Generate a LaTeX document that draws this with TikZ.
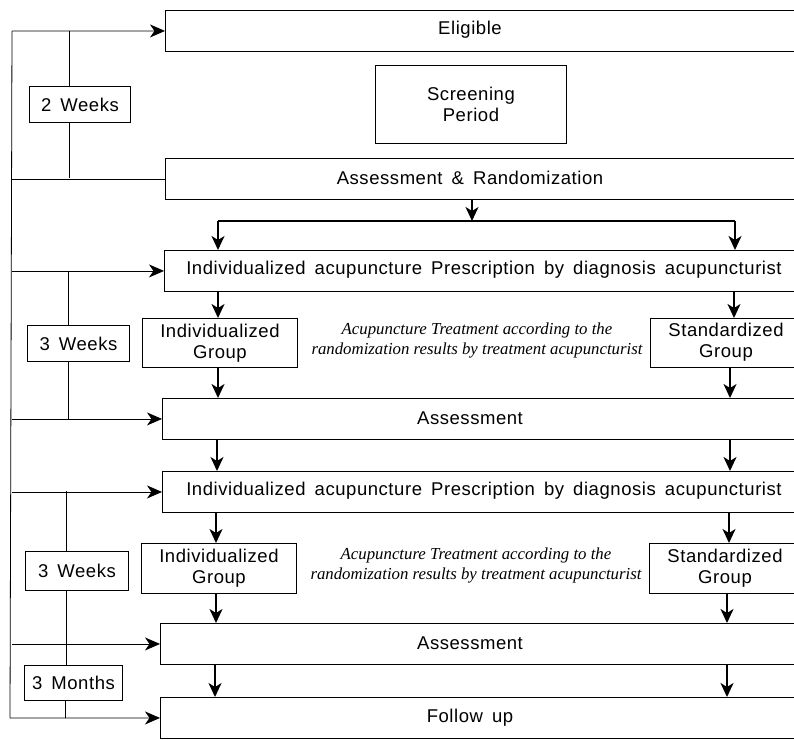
\documentclass[tikz,border=0pt]{standalone}
\usepackage{fontspec}
\setmainfont{Liberation Serif}
\setsansfont{Liberation Sans}[LetterSpace=3,WordSpace=1.6]
\usetikzlibrary{arrows.meta}
\begin{document}
\begin{tikzpicture}[x=1pt,y=-1pt,
  box/.style={draw, line width=0.9pt, inner sep=0pt, anchor=north west},
  txt/.style={font=\sffamily\fontsize{18.5}{21}\selectfont, align=center, inner sep=0pt},
  itx/.style={font=\itshape\fontsize{16.8}{20}\selectfont, align=center, inner sep=0pt},
  thinarr/.style={line width=0.8pt, -{Stealth[length=15pt,width=13pt,inset=4.5pt]}},
  thickarr/.style={line width=1.8pt, -{Stealth[length=14pt,width=13pt,inset=4pt]}},
  conn/.style={line width=0.8pt},
  thickconn/.style={line width=1.8pt}]
\useasboundingbox (0,0) rectangle (794,739);
\clip (0,0) rectangle (794,739);
\fill[white] (0,0) rectangle (794,739);

% wide boxes
\node[box, minimum width=700, minimum height=41] (elig) at (165,10) {};
\node[box, minimum width=700, minimum height=41] (ar) at (165,158) {};
\node[box, minimum width=700, minimum height=41] (pre1) at (164,250) {};
\node[box, minimum width=700, minimum height=41] (as1) at (162,398) {};
\node[box, minimum width=700, minimum height=41] (pre2) at (162,471) {};
\node[box, minimum width=700, minimum height=41] (as2) at (160,623) {};
\node[box, minimum width=700, minimum height=41] (fol) at (160,697) {};

\node[txt] at (470,30) {Eligible};
\node[txt] at (470,178) {Assessment \& Randomization};
\node[txt] at (484,270) {Individualized acupuncture Prescription by diagnosis acupuncturist};
\node[txt] at (470,418) {Assessment};
\node[txt] at (484,491) {Individualized acupuncture Prescription by diagnosis acupuncturist};
\node[txt] at (470,643) {Assessment};
\node[txt] at (470,718) {Follow up};

% screening
\node[box, minimum width=191, minimum height=78, txt] (scr) at (375,65) {Screening\\Period};

% group boxes
\node[box, minimum width=155, minimum height=49, txt] (ind1) at (142,318) {Individualized\\Group};
\node[box, minimum width=160, minimum height=49] (std1) at (650,318) {};
\node[txt] at (726,342) {Standardized\\Group};
\node[box, minimum width=155, minimum height=50, txt] (ind2) at (141,543) {Individualized\\Group};
\node[box, minimum width=160, minimum height=50] (std2) at (649,543) {};
\node[txt] at (725,568) {Standardized\\Group};

\node[itx] (tr1) at (477,340) {Acupuncture Treatment according to the\\randomization results by treatment acupuncturist};
\node[itx] (tr2) at (476,565) {Acupuncture Treatment according to the\\randomization results by treatment acupuncturist};

% period boxes
\node[box, minimum width=101, minimum height=36, txt, fill=white] (w1) at (29,86) {2 Weeks};
\node[box, minimum width=102, minimum height=36, txt, fill=white] (w2) at (27,325) {3 Weeks};
\node[box, minimum width=103, minimum height=39, txt, fill=white] (w3) at (25,551) {3 Weeks};
\node[box, minimum width=98, minimum height=35, txt, fill=white] (m3) at (24,665) {3 Months};

% left timeline
\coordinate (otop) at (12,31);
\coordinate (obot) at (10,718);
\draw[conn] (otop) -- (obot);
\draw[thinarr] (otop) -- (elig.west);
\draw[conn] (ar.west) -- (ar.west -| otop);
\draw[thinarr] (pre1.west -| otop) -- (pre1.west);
\draw[thinarr] (as1.west -| otop) -- (as1.west);
\draw[thinarr] (pre2.west -| otop) -- (pre2.west);
\draw[thinarr] (as2.west -| otop) -- (as2.west);
\draw[thinarr] (obot) -- (fol.west);

% inner timelines
\draw[conn] (69,31) -- (w1.north -| 69,0);
\draw[conn] (w1.south -| 69,0) -- (69,178);
\draw[conn] (68,271) -- (w2.north -| 68,0);
\draw[conn] (w2.south -| 68,0) -- (68,419);
\draw[conn] (66,491) -- (w3.north -| 66,0);
\draw[conn] (w3.south -| 66,0) -- (m3.north -| 66,0);
\draw[conn] (m3.south -| 65,0) -- (65,718);

% main flow
\coordinate (split) at (472,221);
\coordinate (sl) at (218,221);
\coordinate (sr) at (735,221);
\draw[thickarr] (472,199) -- (split);
\draw[thickconn] (sl) -- (sr);
\draw[thickarr] (sl) -- (218,250);
\draw[thickarr] (sr) -- (735,250);

\draw[thickarr] (218,291) -- (218,318);
\draw[thickarr] (734,291) -- (734,318);
\draw[thickarr] (218,367) -- (218,398);
\draw[thickarr] (730,367) -- (730,398);
\draw[thickarr] (217,439) -- (217,471);
\draw[thickarr] (730,439) -- (730,471);
\draw[thickarr] (216,512) -- (216,543);
\draw[thickarr] (729,512) -- (729,543);
\draw[thickarr] (216,593) -- (216,623);
\draw[thickarr] (727,593) -- (727,623);
\draw[thickarr] (215,664) -- (215,697);
\draw[thickarr] (727,664) -- (727,697);
\end{tikzpicture}
\end{document}
